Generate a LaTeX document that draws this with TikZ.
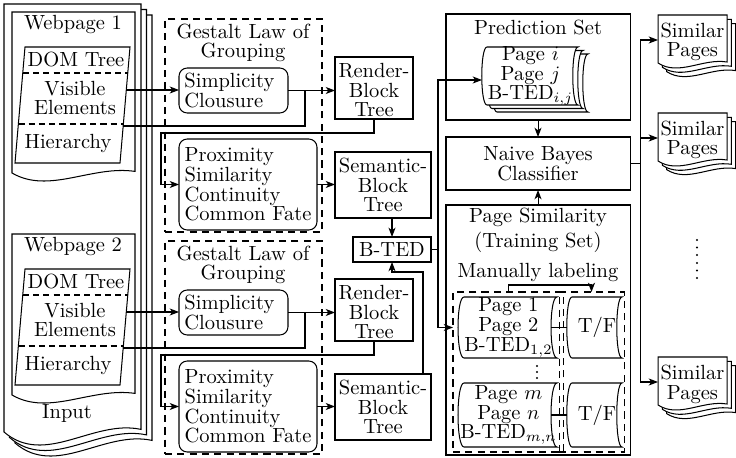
\documentclass[tikz,border=0pt]{standalone}
\usetikzlibrary{arrows.meta,fit,calc}
\newcommand\docshape[6]{%
  \draw[#6] ({#1},{#4}) -- ({#1},{#2}) -- ({#3},{#2}) -- ({#3},{#4-0.2*(#5)})
    .. controls ({#1+0.65*((#3)-(#1))},{#4-1.0*(#5)}) and ({#1+0.3*((#3)-(#1))},{#4+2.7*(#5)}) .. cycle;}
\newcommand\storedshape[6]{%
  \draw[#6] ({#1},{#2}) -- ({#3},{#2}) .. controls ({#3-#5},{#2}) and ({#3-#5},{#4}) .. ({#3},{#4})
    -- ({#1},{#4}) .. controls ({#1-#5},{#4}) and ({#1-#5},{#2}) .. cycle;}
\newcommand\dotcol[3]{% x, top y, spacing
  \foreach \k in {0,1,2} \fill ({#1},{#2+\k*#3}) circle[radius=0.55pt];}
\begin{document}
\begin{tikzpicture}[x=0.4878pt,y=-0.4878pt,
  line width=0.5pt,
  >={Stealth[length=4.5pt,width=3.4pt,inset=1.2pt]},
  every node/.style={inner sep=0pt,outer sep=0pt,align=center,
    font=\fontsize{10}{9.6}\selectfont},
  plain/.style={draw},
  rbox/.style={draw,rounded corners=4pt},
  grp/.style={draw,dash pattern=on 3.5pt off 2.5pt},
  sep/.style={dash pattern=on 3pt off 2pt},
]
\useasboundingbox (0,0) rectangle (736,458);

% Input stack
\docshape{15}{15}{152}{443}{13}{fill=white}
\docshape{9.5}{9.5}{146.5}{437.5}{13}{fill=white}
\docshape{4}{4}{141}{432}{13}{fill=white}
\node[fit={(4,4)(141,432)}] (inputdoc) {};
\node (input) at (67,413) {Input};

\foreach \g/\dy in {1/0,2/222}{
  \docshape{12}{12+\dy}{135}{173+\dy}{8}{}
  \node (wp\g) at (73,{25+\dy}) {Webpage \g};
  \draw (25,{47+\dy}) -- (130,{47+\dy}) -- (120,{163+\dy}) -- (15,{163+\dy}) -- cycle;
  \draw[sep] (22.8,{73+\dy}) -- (127.8,{73+\dy});
  \draw[sep] (18.4,{124+\dy}) -- (123.4,{124+\dy});
  \node (dom\g) at (76,{60+\dy}) {DOM Tree};
  \node (vis\g) at (75,{98+\dy}) {Visible\\Elements};
  \node (hier\g) at (68,{143+\dy}) {Hierarchy};
  \coordinate (v\g) at (126.3,{90+\dy});
  \coordinate (h\g) at (123.2,{126+\dy});
  \node[grp,fit={(165,{19+\dy})(322,{232+\dy})}] (g\g) {};
  \node (gt\g) at (243,{43+\dy}) {Gestalt Law of\\Grouping};
  \node[rbox,fit={(179,{68+\dy})(288,{113+\dy})}] (s\g) {};
  \node[align=left] (ts\g) at ([xshift=-2pt]s\g.center) {Simplicity\\Clousure};
  \node[plain,fit={(335,{57+\dy})(413,{119+\dy})}] (r\g) {};
  \node (tr\g) at ([yshift=-1pt]r\g.center) {Render-\\Block\\Tree};
  \node[rbox,fit={(179,{139+\dy})(317,{230+\dy})}] (p\g) {};
  \node[align=left] (tp\g) at (p\g.center) {Proximity\\Similarity\\Continuity\\Common Fate};
  \node[plain,fit={(335,{152+\dy})(431,{218+\dy})}] (se\g) {};
  \node (tse\g) at (se\g.center) {Semantic-\\Block\\Tree};
  \coordinate (j\g) at (305,{90.5+\dy});
  \coordinate (k\g) at (161,{133+\dy});
  \draw[->] (v\g) -- (v\g -| s\g.west);
  \draw[->] (s\g.east) -- (s\g.east -| r\g.west);
  \draw (h\g) -| (j\g);
  \draw[->] (r\g.south) |- (k\g) |- (p\g.west);
  \draw[->] (p\g.east) -- (p\g.east -| se\g.west);
}

\node[plain,fit={(353,237)(431,262)}] (bted) {};
\node (tbted) at (bted.center) {B-TED};
\draw[->] (se1.south -| bted.north) -- (bted.north);
\draw[->] ($(se2.north east)+(-8,0)$) |- ($(bted.south)+(0,10)$) -- (bted.south);

% right part
\node[plain,fit={(446,14)(630,120)}] (pset) {};
\node (pst) at (538,28) {Prediction Set};
\storedshape{497}{54}{588}{112}{7}{fill=white}
\storedshape{492}{50.5}{583}{108.5}{7}{fill=white}
\storedshape{487}{47}{578}{105}{7}{fill=white}
\node[fit={(487,47)(578,105)}] (pd) {};
\node (tpd) at ([xshift=-1pt]pd.center) {Page $i$\\Page $j$\\B-TED$_{i,j}$};
\node[plain,fit={(446,137)(630,190)}] (nb) {};
\node (tnb) at (nb.center) {Naive Bayes\\Classifier};
\node[plain,fit={(446,205)(630,455)}] (ps) {};
\node[font=\fontsize{10}{12.2}\selectfont] (pst2) at (538,230) {Page Similarity\\(Training Set)};
\node (ml) at (538,273) {Manually labeling};
\node[grp,fit={(453,292)(563,452)}] (dl) {};
\node[grp,fit={(559,292)(624,452)}] (dr) {};
\storedshape{464}{297}{557}{358}{8}{}
\node[fit={(464,297)(557,358)}] (sd1) {};
\node (tsd1) at ([xshift=-1pt]sd1.center) {Page 1\\Page 2\\B-TED$_{1,2}$};
\storedshape{572}{297}{622}{358}{7}{}
\node[fit={(572,297)(622,358)}] (tf1) {};
\node (ttf1) at (tf1.center) {T/F};
\storedshape{464}{383}{557}{447}{8}{}
\node[fit={(464,383)(557,447)}] (sd2) {};
\node (tsd2) at ([xshift=-1pt]sd2.center) {Page $m$\\Page $n$\\B-TED$_{m,n}$};
\storedshape{572}{383}{622}{447}{7}{}
\node[fit={(572,383)(622,447)}] (tf2) {};
\node (ttf2) at (tf2.center) {T/F};
\draw ($(sd1.east)+(-6,0)$) -- ($(tf1.west)+(-5,0)$);
\draw ($(sd2.east)+(-6,0)$) -- ($(tf2.west)+(-5,0)$);
\dotcol{537}{366}{6}

\draw (bted.east) -- ++(7,0) coordinate (jb);
\draw[->] (jb) |- ($(pd.west)+(-5,4)$);
\draw[->] (jb) |- (sd1.west -| dl.west);
\draw[->] (pset.south) -- (nb.north);
\draw[->] (ps.north) -- (nb.south);
\draw[->] (dl.north) -- ++(0,-7) -| (dr.north);

% similar pages
\foreach \n/\tp in {1/15,2/113,3/357}{
  \docshape{666.6}{\tp+8.6}{735.6}{\tp+56.6}{5}{fill=white}
  \docshape{662.3}{\tp+4.3}{731.3}{\tp+52.3}{5}{fill=white}
  \docshape{658}{\tp}{727}{\tp+48}{5}{fill=white}
  \node[fit={(658,\tp)(727,{\tp+50})}] (sim\n) {};
  \node (tsim\n) at ([yshift=-1pt]sim\n.center) {Similar\\Pages};
}
\draw (nb.east) -- ++(10,0) coordinate (js);
\foreach \n in {1,2,3} \draw[->] (js) |- (sim\n.west);
\dotcol{697}{240}{7.5}
\dotcol{697}{263}{7.5}
\end{tikzpicture}
\end{document}
